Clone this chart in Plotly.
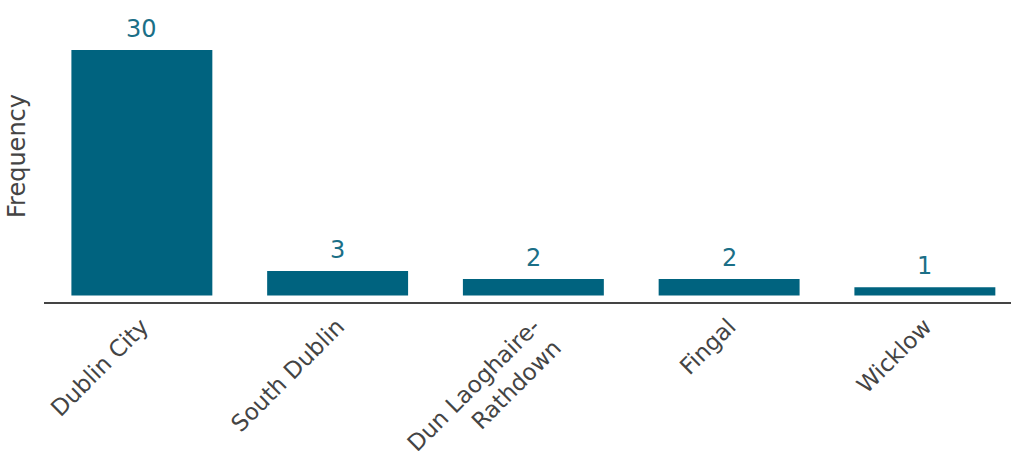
import plotly.graph_objects as go

categories = ["Dublin City", "South Dublin", "Dun Laoghaire-<br>Rathdown", "Fingal", "Wicklow"]
values = [30, 3, 2, 2, 1]
value_labels = [str(v) for v in values]

BAR = "#00637f"
LABEL = "#1b6f87"
FONT = "DejaVu Sans"

fig = go.Figure(
    go.Bar(
        x=categories,
        y=values,
        marker=dict(color=BAR, line=dict(width=0)),
        hoverinfo="x+y",
    )
)

for c, v, t in zip(categories, values, value_labels):
    fig.add_annotation(
        x=c, y=v, text=t, showarrow=False,
        yanchor="bottom", yshift=5,
        font=dict(family=FONT, size=24, color=LABEL),
    )

fig.update_layout(
    width=1011,
    height=451,
    margin=dict(l=44, r=0, t=10, b=149),
    plot_bgcolor="white",
    paper_bgcolor="white",
    bargap=0.28,
    showlegend=False,
    font=dict(family=FONT, color="#444444"),
)

fig.update_xaxes(
    range=[-0.5, 4.44],
    automargin=False,
    showline=True,
    linecolor="#444444",
    linewidth=2,
    showgrid=False,
    ticks="",
    tickangle=-45,
    tickfont=dict(family=FONT, size=23, color="#444444"),
)

fig.update_yaxes(
    range=[-0.8, 34.9],
    automargin=False,
    showgrid=False,
    zeroline=False,
    showticklabels=False,
    ticks="",
    title=dict(text="Frequency", font=dict(family=FONT, size=24, color="#444444"), standoff=10),
)

fig.write_html(
    "out.html",
    config={"displayModeBar": False},
    post_script="document.body.style.margin='0';",
)
